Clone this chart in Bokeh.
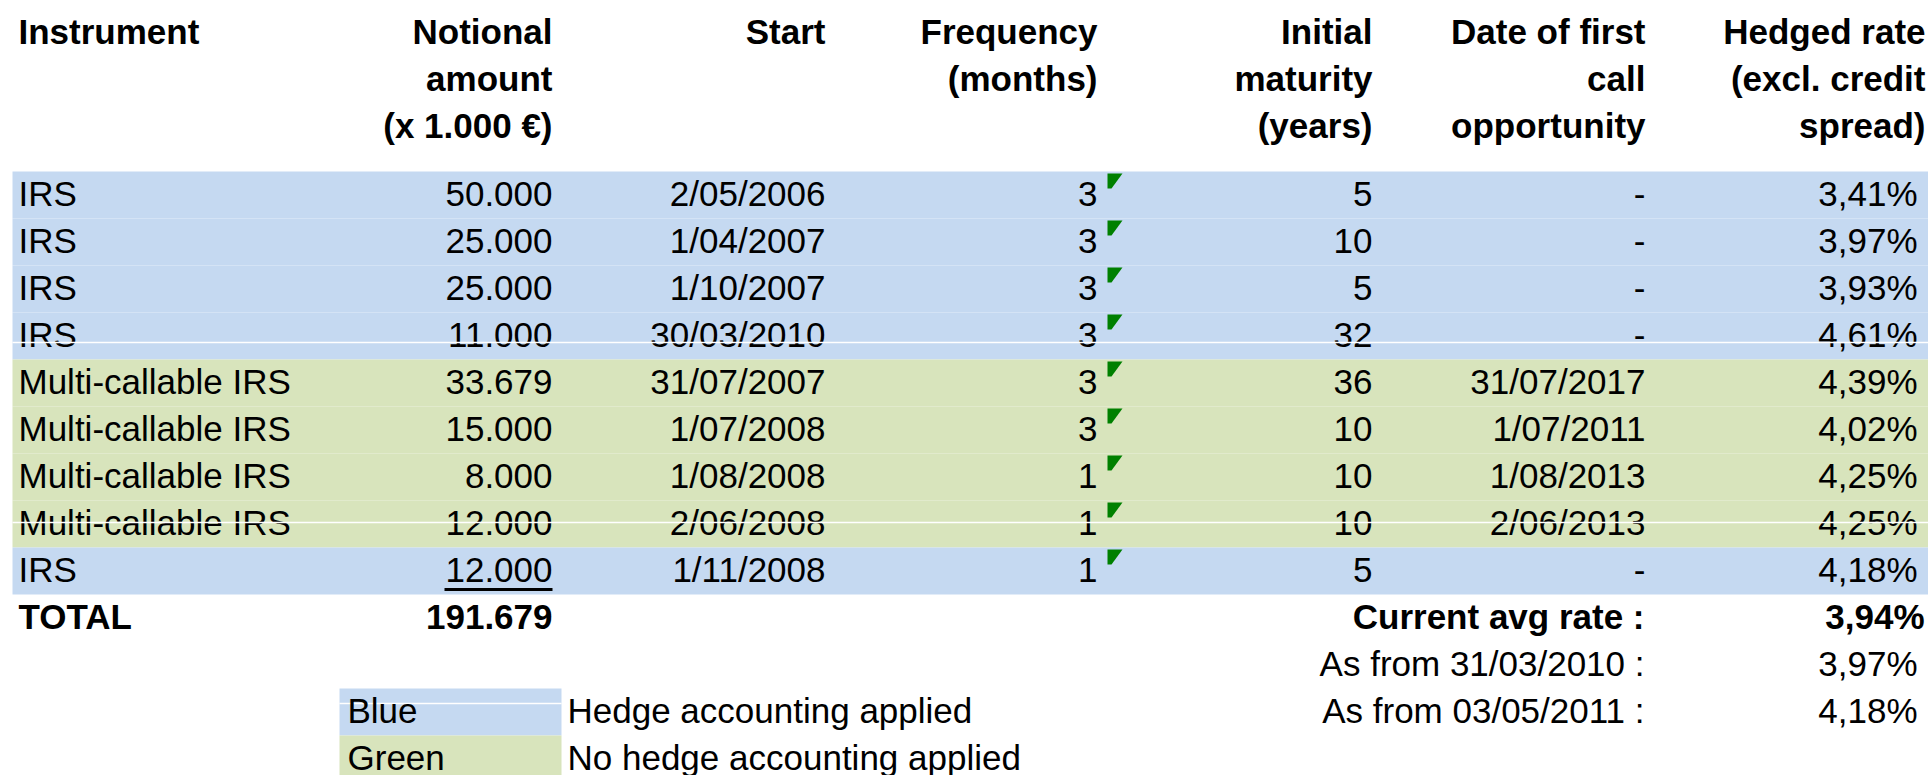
from bokeh.plotting import figure
from bokeh.models import Range1d, ColumnDataSource
from bokeh.core.properties import value
from bokeh.embed import file_html
from bokeh.resources import INLINE

# ---------------- data ----------------
instruments = ["IRS", "IRS", "IRS", "IRS", "Multi-callable IRS", "Multi-callable IRS",
               "Multi-callable IRS", "Multi-callable IRS", "IRS"]
notional = [50000, 25000, 25000, 11000, 33679, 15000, 8000, 12000, 12000]
start = ["2/05/2006", "1/04/2007", "1/10/2007", "30/03/2010", "31/07/2007",
         "1/07/2008", "1/08/2008", "2/06/2008", "1/11/2008"]
frequency = [3, 3, 3, 3, 3, 3, 1, 1, 1]
maturity = [5, 10, 5, 32, 36, 10, 10, 10, 5]
first_call = ["-", "-", "-", "-", "31/07/2017", "1/07/2011", "1/08/2013", "2/06/2013", "-"]
hedged_rate = [3.41, 3.97, 3.93, 4.61, 4.39, 4.02, 4.25, 4.25, 4.18]
hedge_accounting = [True, True, True, True, False, False, False, False, True]

headers = [
    ["Instrument"],
    ["Notional", "amount", "(x 1.000 €)"],
    ["Start"],
    ["Frequency", "(months)"],
    ["Initial", "maturity", "(years)"],
    ["Date of first", "call", "opportunity"],
    ["Hedged rate", "(excl. credit", "spread)"],
]
summary_labels = ["Current avg rate :", "As from 31/03/2010 :", "As from 03/05/2011 :"]
summary_rates = [3.94, 3.97, 4.18]
legend_names = ["Blue", "Green"]
legend_texts = ["Hedge accounting applied", "No hedge accounting applied"]

# ---------------- layout ----------------
BLUE = "#C5D9F1"
GREEN = "#D8E4BC"
FONT = value("Liberation Sans")
FS = value("35px")
W, H = 1928, 775
LEFT_TXT = 18
COL_RIGHT = [None, 552, 825, 1097, 1372, 1645, 1925]
RATE_RIGHT = 1917
TOP = 171
ROW_H = 47
BASE = 34
TXT_DY = -12
BAND_L, BAND_R = 12, 1928
HEAD_BASE = 43

def fmt_amount(v):
    return f"{v:,}".replace(",", ".")

def fmt_rate(v):
    return f"{v:.2f}".replace(".", ",") + "%"

p = figure(width=W, height=H, x_range=Range1d(0, W), y_range=Range1d(H, 0),
           output_backend="svg", toolbar_location=None, min_border=0,
           x_axis_location=None, y_axis_location=None)
p.grid.visible = False
p.outline_line_color = None
p.background_fill_color = "white"
p.border_fill_color = "white"

def add_text(xs, ys, texts, align, bold=False):
    src = ColumnDataSource(dict(x=xs, y=[y + TXT_DY for y in ys], text=texts))
    p.text(x="x", y="y", text="text", source=src, text_align=align,
           text_baseline="alphabetic", text_font=FONT, text_font_size=FS,
           text_font_style="bold" if bold else "normal", text_color="black")

n = len(instruments)
row_tops = [TOP + i * ROW_H for i in range(n)]
baselines = [t + BASE for t in row_tops]

# row bands
p.quad(left=[BAND_L] * n, right=[BAND_R] * n, top=row_tops,
       bottom=[t + ROW_H for t in row_tops],
       fill_color=[BLUE if h else GREEN for h in hedge_accounting], line_color=None)

# headers
for ci, lines in enumerate(headers):
    ys = [HEAD_BASE + k * ROW_H for k in range(len(lines))]
    if ci == 0:
        add_text([LEFT_TXT] * len(lines), ys, lines, "left", bold=True)
    else:
        add_text([COL_RIGHT[ci]] * len(lines), ys, lines, "right", bold=True)

# body
add_text([LEFT_TXT] * n, baselines, instruments, "left")
add_text([COL_RIGHT[1]] * n, baselines, [fmt_amount(v) for v in notional], "right")
add_text([COL_RIGHT[2]] * n, baselines, start, "right")
add_text([COL_RIGHT[3]] * n, baselines, [str(v) for v in frequency], "right")
add_text([COL_RIGHT[4]] * n, baselines, [str(v) for v in maturity], "right")
add_text([COL_RIGHT[5]] * n, baselines, first_call, "right")
add_text([RATE_RIGHT] * n, baselines, [fmt_rate(v) for v in hedged_rate], "right")

# green cell indicators in the frequency column
tri_x0 = COL_RIGHT[3] + 10
p.patches(xs=[[tri_x0, tri_x0 + 15, tri_x0 + 4, tri_x0] for _ in range(n)],
          ys=[[t + 2, t + 2, t + 17, t + 17] for t in row_tops],
          fill_color="#008000", line_color=None)

# underline of last notional
p.segment(x0=[444], y0=[row_tops[-1] + 42], x1=[COL_RIGHT[1]], y1=[row_tops[-1] + 42],
          line_color="black", line_width=3)

# thin white gridlines crossing the bands
p.segment(x0=[BAND_L, BAND_L], x1=[BAND_R, BAND_R],
          y0=[row_tops[3] + 30, row_tops[7] + 22], y1=[row_tops[3] + 30, row_tops[7] + 22],
          line_color="white", line_width=1.5)

# total row
tot_base = TOP + n * ROW_H + BASE
add_text([LEFT_TXT], [tot_base], ["TOTAL"], "left", bold=True)
add_text([COL_RIGHT[1]], [tot_base], [fmt_amount(sum(notional))], "right", bold=True)

# summary rates
sum_bases = [tot_base + k * ROW_H for k in range(len(summary_labels))]
add_text([1644], sum_bases[:1], summary_labels[:1], "right", bold=True)
add_text([1924], sum_bases[:1], [fmt_rate(summary_rates[0])], "right", bold=True)
add_text([1644] * 2, sum_bases[1:], summary_labels[1:], "right")
add_text([RATE_RIGHT] * 2, sum_bases[1:], [fmt_rate(v) for v in summary_rates[1:]], "right")

# legend
leg_top = TOP + (n + 2) * ROW_H
leg_tops = [leg_top, leg_top + ROW_H]
p.quad(left=[339, 339], right=[561, 561], top=leg_tops, bottom=[t + ROW_H for t in leg_tops],
       fill_color=[BLUE, GREEN], line_color=None)
p.segment(x0=[339], x1=[561], y0=[leg_top + 15], y1=[leg_top + 15], line_color="white", line_width=1.5)
leg_bases = [t + BASE for t in leg_tops]
add_text([347, 347], leg_bases, legend_names, "left")
add_text([567, 567], leg_bases, legend_texts, "left")

open("out.html", "w").write(file_html(p, INLINE))
